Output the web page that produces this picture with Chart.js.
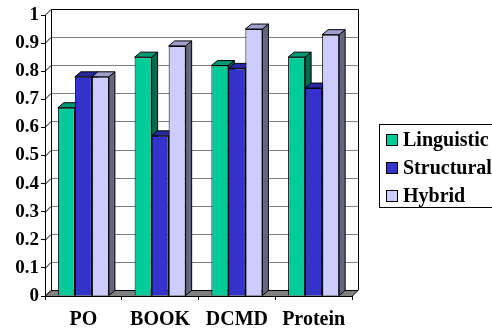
<!DOCTYPE html>
<html>
<head>
<meta charset="utf-8">
<script src="https://cdn.jsdelivr.net/npm/chart.js@4/dist/chart.umd.min.js"></script>
<style>
  html, body { margin: 0; padding: 0; background: #fff; }
  #wrap { width: 492px; height: 332px; }
</style>
</head>
<body>
<div id="wrap"><canvas id="chart" width="492" height="332"></canvas></div>
<script>
// data
var categories = ['PO', 'BOOK', 'DCMD', 'Protein'];
var seriesNames = ['Linguistic', 'Structural', 'Hybrid'];
var linguistic = [0.67, 0.85, 0.82, 0.85];
var structural = [0.78, 0.57, 0.81, 0.74];
var hybrid = [0.78, 0.89, 0.95, 0.93];
var yTicks = [0, 0.1, 0.2, 0.3, 0.4, 0.5, 0.6, 0.7, 0.8, 0.9, 1];

// front / top / side shades per series
var fronts = ['#00CC99', '#3333CC', '#CCCCFF'];
var tops = ['#009973', '#2828A3', '#9F9FCC'];
var sides = ['#006B4F', '#1C1C70', '#666680'];

var WALL = 6;   // depth of walls / floor
var BDX = 6, BDY = 5; // depth of bars

var FONT = "'Liberation Serif'";
Chart.defaults.font.family = FONT;

function poly(ctx, pts, fill) {
    ctx.beginPath();
    ctx.moveTo(pts[0][0], pts[0][1]);
    for (var i = 1; i < pts.length; i++) ctx.lineTo(pts[i][0], pts[i][1]);
    ctx.closePath();
    ctx.fillStyle = fill;
    ctx.fill();
    ctx.stroke();
}

var depth3d = {
    id: 'depth3d',
    beforeDatasetsDraw: function (chart) {
        var ctx = chart.ctx, a = chart.chartArea, y = chart.scales.y;
        var L = a.left, R = a.right, B = a.bottom, T = a.top;
        ctx.save();
        ctx.lineWidth = 1;

        // back wall gridlines
        ctx.strokeStyle = '#808080';
        yTicks.forEach(function (v) {
            var py = Math.round(y.getPixelForValue(v)) + 0.5;
            ctx.beginPath();
            ctx.moveTo(L + WALL, py - WALL);
            ctx.lineTo(R + WALL, py - WALL);
            ctx.stroke();
        });
        // side wall diagonals at each tick
        ctx.strokeStyle = '#000';
        yTicks.forEach(function (v) {
            var py = Math.round(y.getPixelForValue(v)) + 0.5;
            ctx.beginPath();
            ctx.moveTo(L, py);
            ctx.lineTo(L + WALL, py - WALL);
            ctx.stroke();
        });
        // back wall frame
        ctx.beginPath();
        ctx.moveTo(L + WALL + 0.5, B - WALL);
        ctx.lineTo(L + WALL + 0.5, T - WALL + 0.5);
        ctx.lineTo(R + WALL + 0.5, T - WALL + 0.5);
        ctx.lineTo(R + WALL + 0.5, B - WALL);
        ctx.stroke();

        // floor
        poly(ctx, [[L, B + 0.5], [L + WALL, B - WALL + 0.5], [R + WALL, B - WALL + 0.5], [R, B + 0.5]], '#808080');

        // top and side faces, left to right
        var bars = [];
        chart.data.datasets.forEach(function (ds, i) {
            chart.getDatasetMeta(i).data.forEach(function (el) {
                bars.push({ el: el, s: i });
            });
        });
        bars.sort(function (p, q) { return p.el.x - q.el.x; });
        bars.forEach(function (b) {
            var el = b.el;
            var x1 = el.x + el.width / 2, x0 = el.x - el.width / 2;
            var top = el.y, base = el.base;
            poly(ctx, [[x1, top], [x1 + BDX, top - BDY], [x1 + BDX, base - BDY], [x1, base]], sides[b.s]);
            poly(ctx, [[x0, top], [x0 + BDX, top - BDY], [x1 + BDX, top - BDY], [x1, top]], tops[b.s]);
        });
        ctx.restore();
    },
    afterDraw: function (chart) {
        // legend box
        var ctx = chart.ctx;
        ctx.save();
        ctx.lineWidth = 1;
        ctx.strokeStyle = '#000';
        ctx.strokeRect(379.5, 124.5, 130, 83);
        ctx.font = 'bold 20px ' + FONT;
        ctx.textBaseline = 'middle';
        ctx.textAlign = 'left';
        seriesNames.forEach(function (name, i) {
            var cy = 140 + i * 28;
            ctx.fillStyle = fronts[i];
            ctx.fillRect(386.5, cy - 5.5, 11, 11);
            ctx.strokeRect(386.5, cy - 5.5, 11, 11);
            ctx.fillStyle = '#000';
            ctx.fillText(name, 403, cy + 1);
        });
        ctx.restore();
    }
};

new Chart(document.getElementById('chart'), {
    type: 'bar',
    data: {
        labels: categories,
        datasets: [
            { label: seriesNames[0], data: linguistic, backgroundColor: fronts[0] },
            { label: seriesNames[1], data: structural, backgroundColor: fronts[1] },
            { label: seriesNames[2], data: hybrid, backgroundColor: fronts[2] }
        ]
    },
    options: {
        responsive: false,
        animation: false,
        layout: { padding: { top: 15, right: 140, left: 0, bottom: 0 } },
        datasets: {
            bar: {
                categoryPercentage: 0.665,
                barPercentage: 1,
                borderColor: '#000',
                borderWidth: 1
            }
        },
        plugins: {
            legend: { display: false },
            tooltip: { enabled: false }
        },
        scales: {
            x: {
                afterFit: function (s) { s.height = 36; },
                grid: { drawOnChartArea: false, tickLength: 4, color: '#000', offset: true },
                border: { display: true, color: '#000' },
                ticks: { color: '#000', padding: 8, font: { family: FONT, size: 20, weight: 'bold' } }
            },
            y: {
                min: 0,
                max: 1,
                afterFit: function (s) { s.width = 45; },
                afterBuildTicks: function (s) { s.ticks = yTicks.map(function (v) { return { value: v }; }); },
                grid: { drawOnChartArea: false, tickLength: 4, color: '#000' },
                border: { display: true, color: '#000' },
                ticks: {
                    color: '#000', padding: 2,
                    font: { family: FONT, size: 19, weight: 'bold' },
                    callback: function (v) { return String(v); }
                }
            }
        }
    },
    plugins: [depth3d]
});
</script>
</body>
</html>
